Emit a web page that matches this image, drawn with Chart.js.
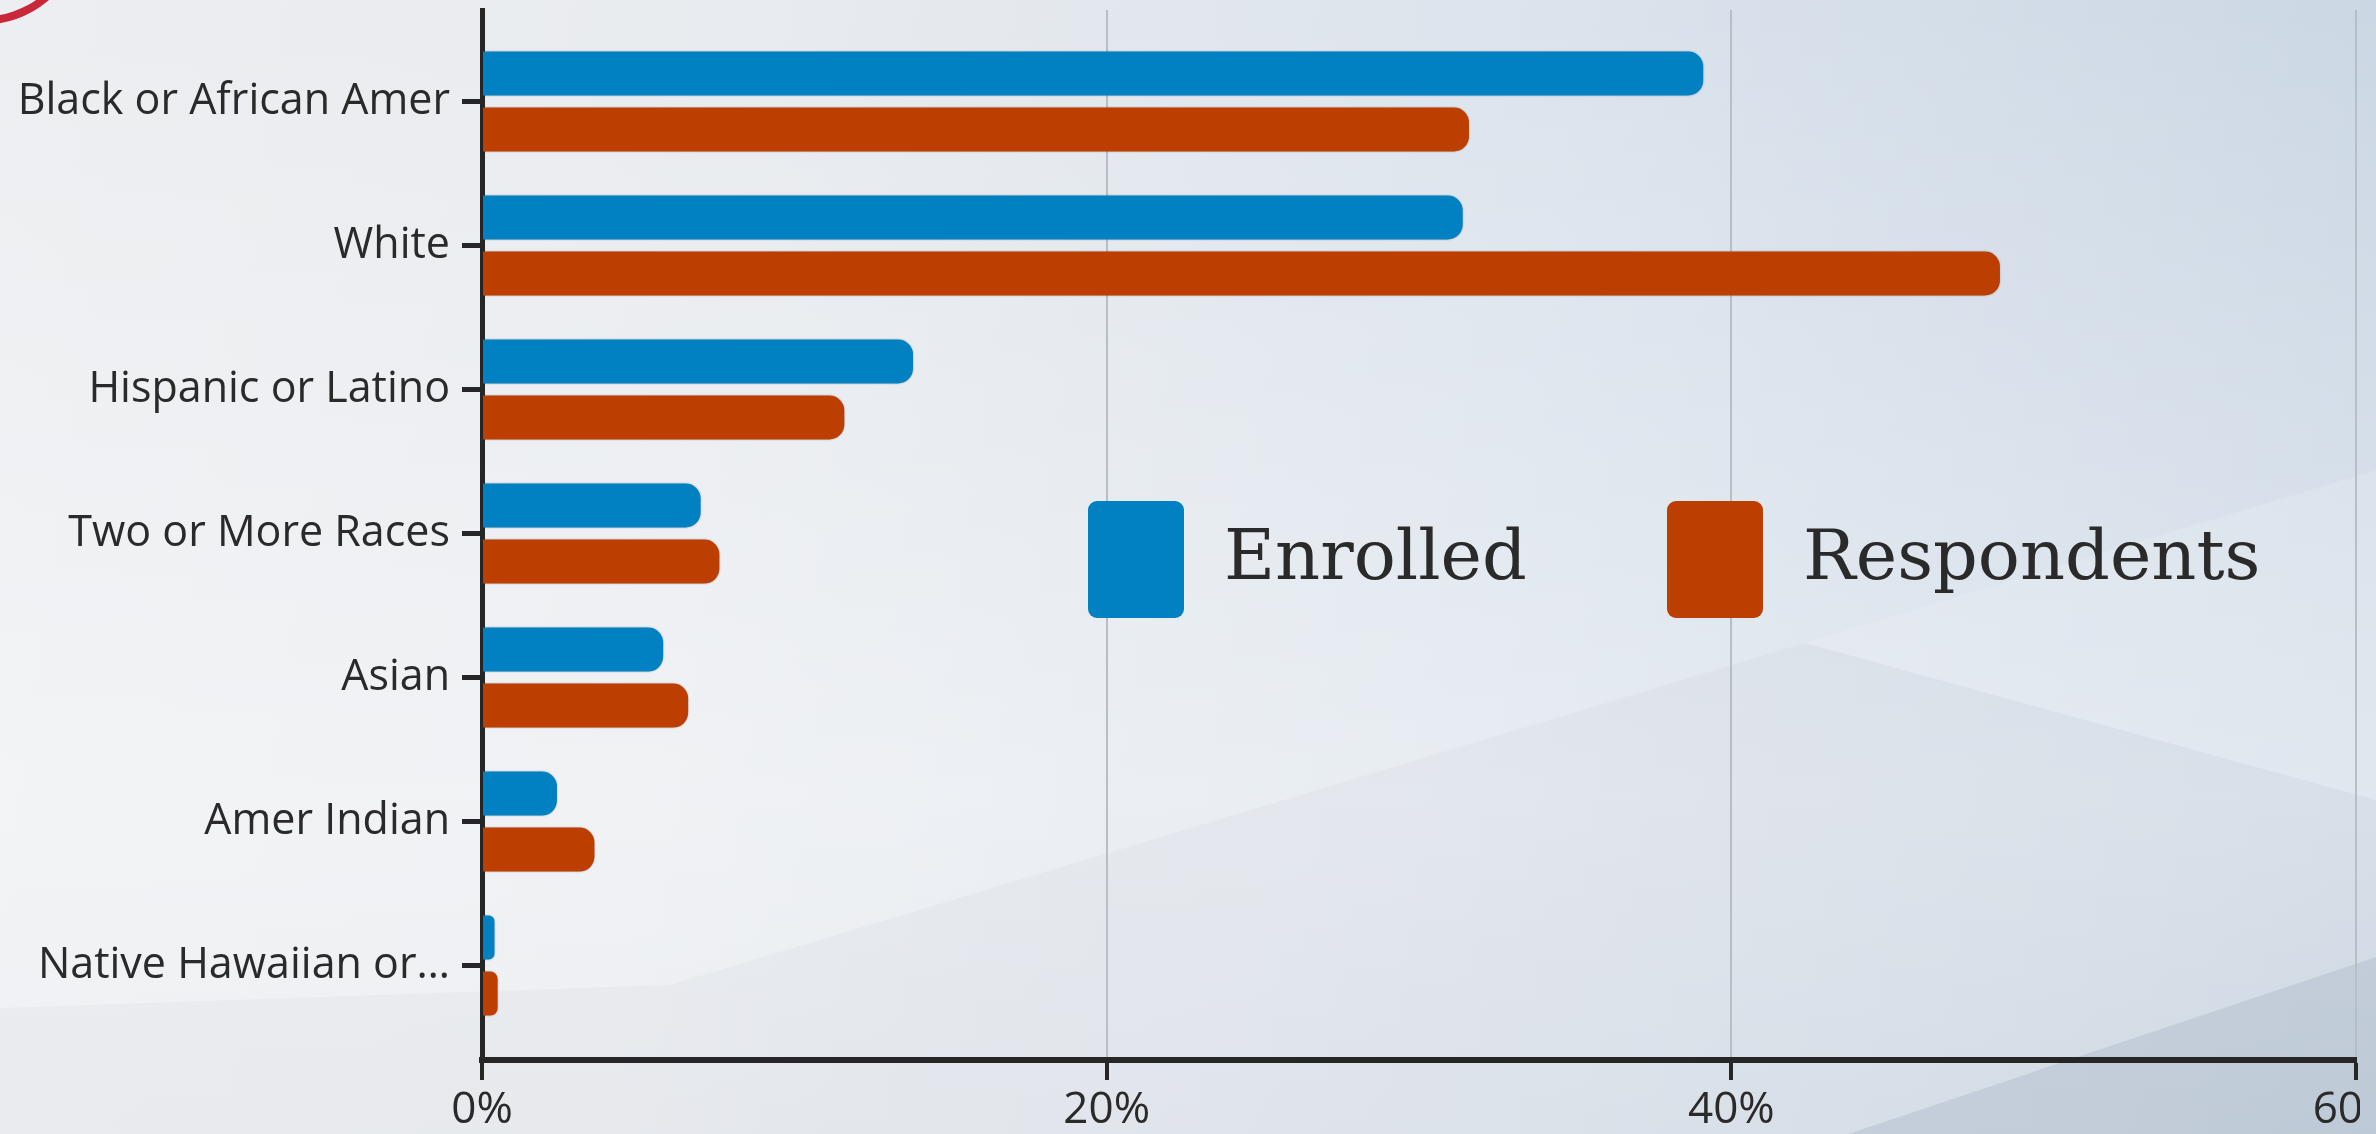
<!DOCTYPE html>
<html>
<head>
<meta charset="utf-8">
<script src="https://cdn.jsdelivr.net/npm/chart.js@4.4.1/dist/chart.umd.min.js"></script>
<style>
html,body{margin:0;padding:0;width:2376px;height:1134px;overflow:hidden;}
body{position:relative;background:linear-gradient(98deg,#eceef1 0%,#e8ebef 30%,#dbe3ec 62%,#c9d5e3 100%);}
.shape{position:absolute;left:0;top:0;width:2376px;height:1134px;pointer-events:none;}
#s0{background:linear-gradient(180deg,rgba(255,255,255,0) 0%,rgba(255,255,255,0.35) 70%,rgba(255,255,255,0.2) 100%);}
#s1{background:rgba(110,125,150,0.045);clip-path:polygon(0 1008px,670px 985px,1805px 643px,2376px 800px,2376px 1134px,0 1134px);}
#s2{background:rgba(95,110,140,0.14);clip-path:polygon(1848px 1134px,2376px 957px,2376px 1134px);}
#s3{background:rgba(255,255,255,0.14);clip-path:polygon(1805px 643px,2376px 470px,2376px 800px);}
#logo{position:absolute;left:-115px;top:-135px;width:190px;height:160px;border-radius:50%;border:8px solid #c9283a;box-sizing:border-box;background:radial-gradient(circle at 20% 60%,#1f3f8a 0 30%,transparent 31%);}
#wrap{position:absolute;left:0;top:0;width:2360px;height:1134px;overflow:hidden;}
#box{position:relative;width:2420px;height:1134px;}
</style>
</head>
<body>
<div class="shape" id="s0"></div>
<div class="shape" id="s1"></div>
<div class="shape" id="s2"></div>
<div class="shape" id="s3"></div>
<div id="logo"></div>
<div id="wrap"><div id="box"><canvas id="c"></canvas></div></div>
<script>
const categories = ["Black or African Amer", "White", "Hispanic or Latino", "Two or More Races", "Asian", "Amer Indian", "Native Hawaiian or\u2026"];
const seriesNames = ["Enrolled", "Respondents"];
const enrolled = [39.1, 31.4, 13.8, 7.0, 5.8, 2.4, 0.4];
const respondents = [31.6, 48.6, 11.6, 7.6, 6.6, 3.6, 0.5];
const xTicks = [0, 20, 40, 60];

const BLUE = '#0180c2';
const ORANGE = '#bc3e00';
const INK = '#262626';

const floatLegend = {
  id: 'floatLegend',
  afterDraw(chart, args, opts) {
    const ctx = chart.ctx;
    chart.data.datasets.forEach((ds, i) => {
      const x = opts.x[i];
      ctx.save();
      ctx.fillStyle = ds.backgroundColor;
      ctx.beginPath();
      ctx.roundRect(x, opts.top, opts.boxW, opts.boxH, opts.radius);
      ctx.fill();
      ctx.fillStyle = opts.color;
      ctx.font = opts.font;
      ctx.textBaseline = 'alphabetic';
      ctx.textAlign = 'left';
      ctx.fillText(ds.label, x + opts.boxW + opts.gap, opts.baseline);
      ctx.restore();
    });
  }
};

const barShadow = {
  id: 'barShadow',
  beforeDatasetsDraw(chart) {
    const ctx = chart.ctx;
    ctx.save();
    ctx.shadowColor = 'rgba(40,40,40,0.35)';
    ctx.shadowBlur = 2;
  },
  afterDatasetsDraw(chart) {
    chart.ctx.restore();
  }
};

new Chart(document.getElementById('c'), {
  type: 'bar',
  data: {
    datasets: [
      { label: seriesNames[0], data: enrolled.map((v, i) => ({ x: v, y: i })), backgroundColor: BLUE },
      { label: seriesNames[1], data: respondents.map((v, i) => ({ x: v, y: i })), backgroundColor: ORANGE }
    ]
  },
  options: {
    indexAxis: 'y',
    responsive: true,
    maintainAspectRatio: false,
    animation: false,
    categoryPercentage: 0.7778,
    barPercentage: 0.7857,
    borderRadius: 15,
    layout: { padding: { top: 10, right: 64, bottom: 0, left: 0 } },
    plugins: {
      legend: { display: false },
      tooltip: { enabled: false },
      floatLegend: {
        x: [1088, 1667], top: 501, boxW: 96, boxH: 117, radius: 9, gap: 40, baseline: 579,
        font: '70px "DejaVu Serif", serif', color: '#2a2a2a'
      }
    },
    scales: {
      x: {
        type: 'linear',
        min: 0, max: 60,
        offset: false,
        afterBuildTicks: s => { s.ticks = xTicks.map(v => ({ value: v })); },
        afterFit: s => { s.height = 74; s.paddingLeft = 0; s.paddingRight = 0; },
        ticks: {
          callback: v => v + '%',
          font: { family: '"Open Sans"', size: 44, lineHeight: 1.2 },
          color: '#2a2a2a',
          padding: 4,
          maxRotation: 0
        },
        grid: { offset: false, color: '#b7bec6', lineWidth: 2, drawTicks: true, tickLength: 20, tickWidth: 4, tickColor: INK },
        border: { display: true, color: INK, width: 6 }
      },
      y: {
        type: 'linear',
        reverse: true,
        offset: false,
        min: -0.6354, max: 6.656,
        afterBuildTicks: s => { s.ticks = categories.map((c, i) => ({ value: i })); },
        afterFit: s => { s.width = 482; s.paddingTop = 0; s.paddingBottom = 0; },
        ticks: {
          callback: v => categories[v],
          font: { family: '"Open Sans"', size: 43 },
          color: '#2a2a2a',
          padding: 12,
          autoSkip: false
        },
        grid: { offset: false, drawOnChartArea: false, drawTicks: true, tickLength: 20, tickWidth: 5, tickColor: INK },
        border: { display: true, color: INK, width: 5 }
      }
    }
  },
  plugins: [barShadow, floatLegend]
});
</script>
</body>
</html>
